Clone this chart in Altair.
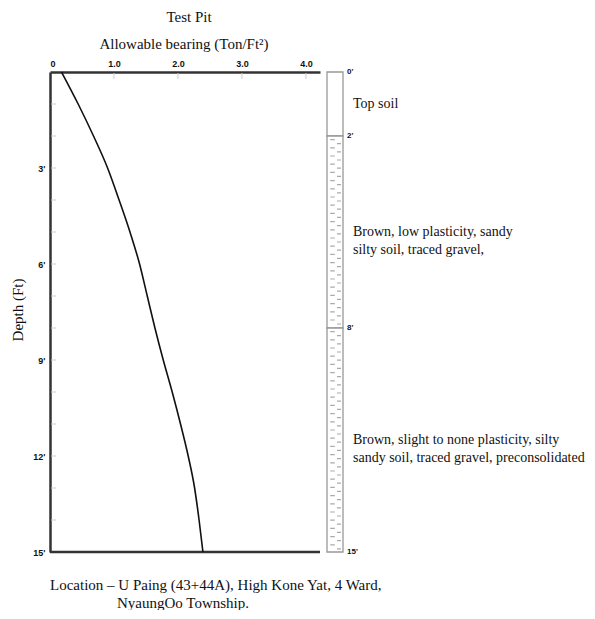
import altair as alt
import pandas as pd

# Bearing curve
depth_ft = [0, 1, 2, 3, 4, 5, 6, 7, 8, 9, 10, 11, 12, 13, 14, 15]
bearing_tsf = [0.18, 0.44, 0.68, 0.90, 1.08, 1.25, 1.40, 1.52, 1.64, 1.77, 1.91, 2.04, 2.16, 2.26, 2.33, 2.39]

# Soil strata
strata_top = [0, 2, 8]
strata_bottom = [2, 8, 15]
strata_hatched = [False, True, True]
strata_desc = [
    "Top soil",
    "Brown, low plasticity, sandy\nsilty soil, traced gravel,",
    "Brown, slight to none plasticity, silty\nsandy soil, traced gravel, preconsolidated",
]
boundary_depths = [0, 2, 8, 15]

x_ticks = [0, 1, 2, 3, 4]
y_ticks = [3, 6, 9, 12, 15]
minor_y = list(range(1, 15))

title_text = "Test Pit"
subtitle_text = "Allowable bearing (Ton/Ft²)"
ytitle_text = "Depth (Ft)"
location_lines = ["Location – U Paing (43+44A), High Kone Yat, 4 Ward,", "NyaungOo Township."]

W, H = 270, 480
SERIF = "Liberation Serif"
SANS = "Liberation Sans"

curve = pd.DataFrame({"depth": depth_ft, "bearing": bearing_tsf})
strata = pd.DataFrame({"top": strata_top, "bottom": strata_bottom,
                       "hatched": strata_hatched, "desc": strata_desc})
strata["mid"] = (strata["top"] + strata["bottom"]) / 2
bounds = pd.DataFrame({"d": boundary_depths, "lab": [f"{d}'" for d in boundary_depths]})

xscale = alt.Scale(domain=[0, 4.22], nice=False, zero=False)
yscale = alt.Scale(domain=[0, 15], reverse=True, nice=False)

xaxis = alt.Axis(orient="top", values=x_ticks, title=None, ticks=False, grid=False,
                 labelExpr="datum.value == 0 ? '0' : format(datum.value, '.1f')",
                 labelFont=SANS, labelFontWeight="bold", labelFontSize=9, labelColor="#111",
                 labelPadding=4, domainColor="#333", domainWidth=2.5)
yaxis = alt.Axis(orient="left", values=y_ticks, title=None, ticks=False, grid=False,
                 labelExpr="datum.value + \"'\"",
                 labelFont=SANS, labelFontWeight="bold", labelFontSize=9, labelColor="#111",
                 labelPadding=5, domainColor="#333", domainWidth=2.5)

line = alt.Chart(curve).mark_line(color="#111", strokeWidth=1.6, interpolate="monotone").encode(
    x=alt.X("bearing:Q", scale=xscale, axis=xaxis),
    y=alt.Y("depth:Q", scale=yscale, axis=yaxis),
    order="depth:Q",
)

xminor = alt.Chart(pd.DataFrame({"v": x_ticks[1:]})).mark_rule(color="#cccccc", strokeWidth=1).encode(
    x=alt.X("v:Q", scale=xscale), y=alt.value(1), y2=alt.value(7))

yminor = alt.Chart(pd.DataFrame({"v": minor_y})).mark_rule(color="#cccccc", strokeWidth=1).encode(
    y=alt.Y("v:Q", scale=yscale), x=alt.value(1), x2=alt.value(6))

bottom_rule = alt.Chart(pd.DataFrame({"v": [15]})).mark_rule(color="#333", strokeWidth=2.5).encode(
    y=alt.Y("v:Q", scale=yscale), x=alt.value(0), x2=alt.value(W))

col = alt.Chart(strata).mark_rect(fill="white", stroke="#999999", strokeWidth=1.3).encode(
    y=alt.Y("top:Q", scale=yscale), y2="bottom:Q", x=alt.value(277), x2=alt.value(293))

hatch_base = alt.Chart(strata).transform_filter("datum.hatched")
hatch1 = hatch_base.mark_rule(color="#aaaaaa", strokeWidth=4.5, strokeDash=[1.2, 7],
                              strokeDashOffset=-3).encode(
    y=alt.Y("top:Q", scale=yscale), y2="bottom:Q", x=alt.value(282.5))
hatch2 = hatch_base.mark_rule(color="#aaaaaa", strokeWidth=4, strokeDash=[1.2, 7],
                              strokeDashOffset=-7).encode(
    y=alt.Y("top:Q", scale=yscale), y2="bottom:Q", x=alt.value(289))

blabels = alt.Chart(bounds).mark_text(font=SANS, fontWeight="bold", fontSize=8, align="left",
                                      baseline="middle", color="#111").encode(
    y=alt.Y("d:Q", scale=yscale), x=alt.value(297), text="lab:N")

desc = alt.Chart(strata).mark_text(font=SERIF, fontSize=14, align="left", baseline="middle",
                                   lineBreak="\n", lineHeight=18, color="#111").encode(
    y=alt.Y("mid:Q", scale=yscale), x=alt.value(303), text="desc:N")

def label(txt, x, y, size=15, angle=0, align="center"):
    return alt.Chart(pd.DataFrame({"t": [txt]})).mark_text(
        font=SERIF, fontSize=size, align=align, baseline="middle", angle=angle, color="#111"
    ).encode(text="t:N", x=alt.value(x), y=alt.value(y))

t1 = label(title_text, 139, -55)
t2 = label(subtitle_text, 134, -28)
t3 = label(ytitle_text, -32, 238, angle=270)
l1 = label(location_lines[0], 0, 513, align="left")
l2 = label(location_lines[1], 67, 531, align="left")

chart = alt.layer(col, hatch1, hatch2, xminor, yminor, bottom_rule, line, blabels, desc,
                  t1, t2, t3, l1, l2).properties(
    width=W, height=H,
    autosize=alt.AutoSizeParams(type="none"),
    padding={"left": 42, "top": 64, "right": 266, "bottom": 58},
    background="white",
).configure_view(stroke=None)

chart.save("out.html", embed_options={"renderer": "svg", "actions": False})
